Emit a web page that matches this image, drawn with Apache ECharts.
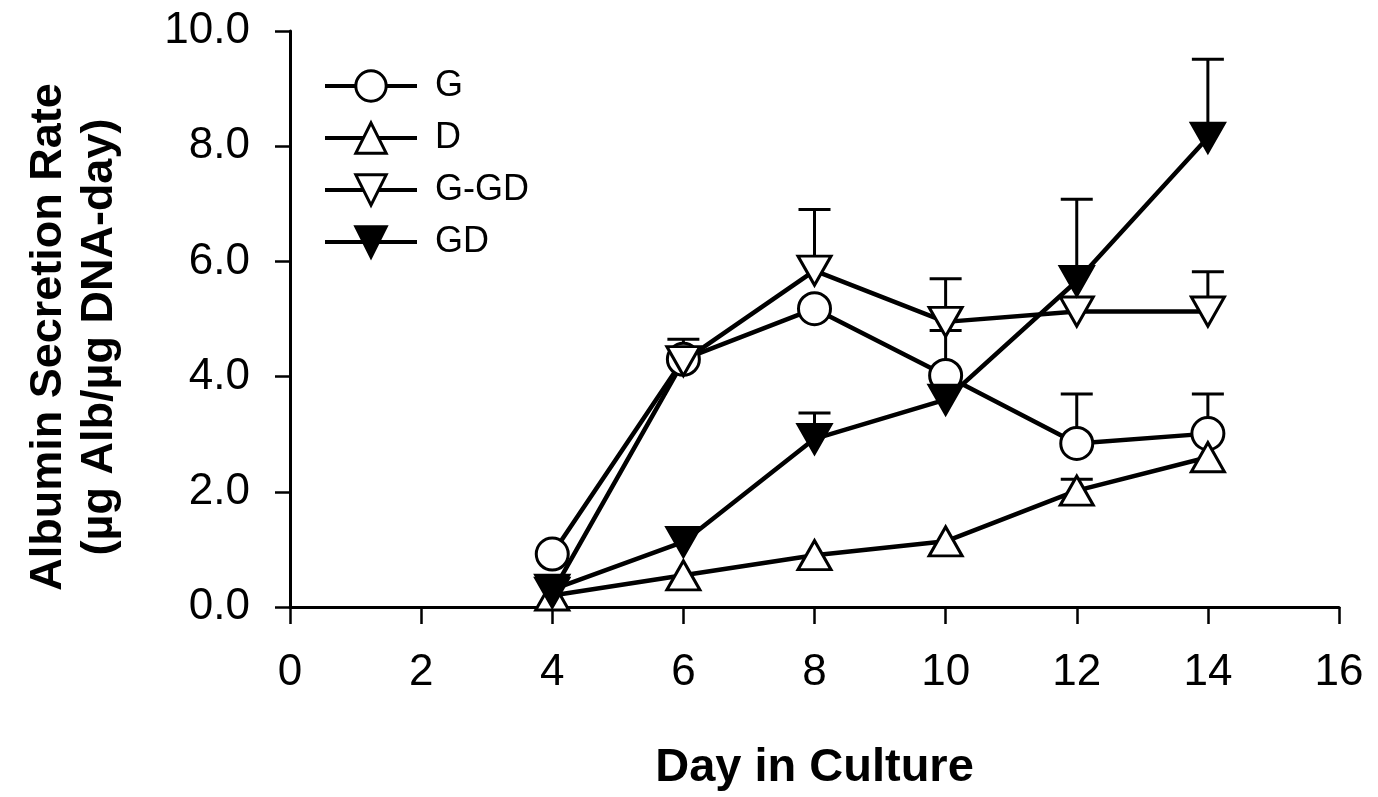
<!DOCTYPE html>
<html>
<head>
<meta charset="utf-8">
<script src="https://cdn.jsdelivr.net/npm/echarts@6/dist/echarts.min.js"></script>
<style>
html,body{margin:0;padding:0;background:#fff;}
#c{width:1378px;height:797px;}
</style>
</head>
<body>
<div id="c"></div>
<script>
// ---- data ----
const days = [4, 6, 8, 10, 12, 14];
const xTicks = [0, 2, 4, 6, 8, 10, 12, 14, 16];
const yTicks = [0, 2, 4, 6, 8, 10];
const seriesNames = ['G', 'D', 'G-GD', 'GD'];
const gVals   = [0.92, 4.30, 5.18, 4.02, 2.84, 3.01];
const dVals   = [0.20, 0.55, 0.90, 1.14, 2.02, 2.60];
const ggdVals = [0.25, 4.27, 5.84, 4.95, 5.13, 5.13];
const gdVals  = [0.30, 1.13, 2.92, 3.60, 5.66, 8.15];
// upper error bar ends (null = none visible)
const gErrHi   = [null, null, null, 4.80, 3.70, 3.70];
const dErrHi   = [null, null, null, null, 2.22, null];
const ggdErrHi = [null, 4.65, 6.90, 5.70, null, 5.82];
const gdErrHi  = [null, null, 3.37, null, 7.08, 9.51];

const FONT = '"Liberation Sans", Arial, Helvetica, sans-serif';

function pairs(vals) { return days.map((d, i) => [d, vals[i]]); }
function errData(vals, hi) {
  const out = [];
  days.forEach((d, i) => { if (hi[i] != null) out.push([d, vals[i], hi[i]]); });
  return out;
}
function errRender(params, api) {
  const x = api.value(0), y = api.value(1), hi = api.value(2);
  const p0 = api.coord([x, y]);
  const p1 = api.coord([x, hi]);
  const half = 16;
  return {
    type: 'group',
    children: [
      { type: 'line', shape: { x1: p0[0], y1: p0[1], x2: p1[0], y2: p1[1] }, style: { stroke: '#000', lineWidth: 3 } },
      { type: 'line', shape: { x1: p1[0] - half, y1: p1[1], x2: p1[0] + half, y2: p1[1] }, style: { stroke: '#000', lineWidth: 3 } }
    ]
  };
}
function errSeries(vals, hi) {
  return { type: 'custom', renderItem: errRender, data: errData(vals, hi), z: 1, silent: true, animation: false };
}
function lineSeries(name, vals, symbol, size, rotate, fill) {
  return {
    name: name, type: 'line', data: pairs(vals), z: 2,
    symbol: symbol, symbolSize: size, symbolRotate: rotate, showAllSymbol: true,
    lineStyle: { color: '#000', width: 4.5 },
    itemStyle: { color: fill, borderColor: '#000', borderWidth: 3 },
    emphasis: { disabled: true }, animation: false
  };
}

const chart = echarts.init(document.getElementById('c'), null, { renderer: 'canvas' });
chart.setOption({
  backgroundColor: '#fff',
  textStyle: { fontFamily: FONT },
  grid: { left: 290, right: 39, top: 31, bottom: 187, containLabel: false },
  legend: {
    data: seriesNames,
    orient: 'vertical', left: 318, top: 63,
    itemWidth: 92, itemHeight: 38, itemGap: 16,
    lineStyle: { color: '#000', width: 4 },
    itemStyle: { borderColor: '#000', borderWidth: 3 },
    textStyle: { fontSize: 36, color: '#000', fontFamily: FONT, padding: [0, 0, 0, 13] },
    selectedMode: false
  },
  xAxis: {
    type: 'value', min: 0, max: 16, interval: 2,
    name: 'Day in Culture', nameLocation: 'middle', nameGap: 138,
    nameTextStyle: { fontSize: 47, fontWeight: 'bold', color: '#000', fontFamily: FONT },
    axisLine: { onZero: false, lineStyle: { color: '#000', width: 3 } },
    axisTick: { show: true, length: 17, lineStyle: { color: '#000', width: 2.5 } },
    axisLabel: { fontSize: 44, color: '#000', margin: 44, formatter: v => xTicks.includes(v) ? String(v) : '' },
    splitLine: { show: false }
  },
  yAxis: {
    type: 'value', min: 0, max: 10, interval: 2,
    name: 'Albumin Secretion Rate\n(µg Alb/µg DNA-day)', nameLocation: 'middle', nameGap: 165, nameRotate: 90,
    nameTextStyle: { fontSize: 45, fontWeight: 'bold', color: '#000', fontFamily: FONT, lineHeight: 51, padding: [0, 36, 0, 0] },
    axisLine: { onZero: false, lineStyle: { color: '#000', width: 3 } },
    axisTick: { show: true, length: 15, lineStyle: { color: '#000', width: 2.5 } },
    axisLabel: { fontSize: 44, color: '#000', margin: 40, formatter: v => yTicks.includes(v) ? v.toFixed(1) : '' },
    splitLine: { show: false }
  },
  series: [
    errSeries(gVals, gErrHi),
    errSeries(dVals, dErrHi),
    errSeries(ggdVals, ggdErrHi),
    errSeries(gdVals, gdErrHi),
    lineSeries('G', gVals, 'circle', 32, 0, '#fff'),
    lineSeries('D', dVals, 'triangle', [33, 29], 0, '#fff'),
    lineSeries('G-GD', ggdVals, 'triangle', [33, 29], 180, '#fff'),
    lineSeries('GD', gdVals, 'triangle', [33, 29], 180, '#000')
  ]
});
</script>
</body>
</html>
